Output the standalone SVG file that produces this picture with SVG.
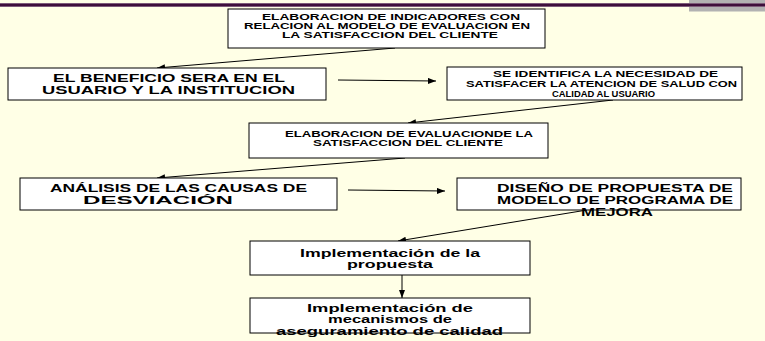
<svg xmlns="http://www.w3.org/2000/svg" width="765" height="341" viewBox="0 0 765 341">
<defs>
<marker id="ah" markerUnits="userSpaceOnUse" markerWidth="9" markerHeight="7" refX="8" refY="3" orient="auto">
<path d="M0,0 L8,3 L0,6 z" fill="#000"/>
</marker>
<style>
.box{fill:#fff;stroke:#000;stroke-width:1}
.t{font-family:"Liberation Sans",Arial,sans-serif;font-weight:bold;fill:#000}
.s8{font-size:8.5px}
.s11{font-size:11px}
.s12{font-size:10.8px}
.s10{font-size:10.5px}
.c{fill:none;stroke:#000;stroke-width:1;marker-end:url(#ah)}
</style>
</defs>
<rect x="0" y="0" width="765" height="341" fill="#FFFFE6"/>
<rect x="689" y="0" width="76" height="11.5" fill="#B2B2B2"/>
<rect x="0" y="3" width="765" height="4" fill="#7E5C7A"/>
<rect x="0" y="4" width="765" height="2" fill="#3F0F3C"/>

<g id="connectors">
<line class="c" x1="395" y1="48" x2="157" y2="68"/>
<line class="c" x1="338" y1="80" x2="436" y2="81"/>
<line class="c" x1="613" y1="100" x2="408" y2="123"/>
<line class="c" x1="405" y1="158" x2="157" y2="178"/>
<line class="c" x1="348" y1="190" x2="445" y2="191"/>
<line class="c" x1="587" y1="210" x2="398" y2="241"/>
<line class="c" x1="402" y1="275" x2="402" y2="298"/>
</g>

<g id="n1">
<rect class="box" x="228" y="9" width="317" height="39"/>
<text class="t s8" x="262" y="19.5" textLength="258" lengthAdjust="spacingAndGlyphs">ELABORACION DE INDICADORES CON</text>
<text class="t s8" x="244" y="28.5" textLength="286" lengthAdjust="spacingAndGlyphs">RELACION AL MODELO DE EVALUACION EN</text>
<text class="t s8" x="282" y="37.5" textLength="216" lengthAdjust="spacingAndGlyphs">LA SATISFACCION DEL CLIENTE</text>
</g>

<g id="n2">
<rect class="box" x="8" y="68" width="318" height="32"/>
<text class="t s11" x="53" y="82.3" textLength="232" lengthAdjust="spacingAndGlyphs">EL BENEFICIO SERA EN EL</text>
<text class="t s11" x="42" y="93.8" textLength="253" lengthAdjust="spacingAndGlyphs">USUARIO Y LA INSTITUCION</text>
</g>

<g id="n3">
<rect class="box" x="447" y="67" width="295" height="33"/>
<text class="t s8" x="493" y="76.5" textLength="225" lengthAdjust="spacingAndGlyphs">SE IDENTIFICA LA NECESIDAD DE</text>
<text class="t s8" x="466" y="86.8" textLength="271" lengthAdjust="spacingAndGlyphs">SATISFACER LA ATENCION DE SALUD CON</text>
<text class="t s8" x="552" y="96.5" textLength="103" lengthAdjust="spacingAndGlyphs">CALIDAD AL USUARIO</text>
</g>

<g id="n4">
<rect class="box" x="249" y="123" width="299" height="35"/>
<text class="t s8" x="285" y="136.5" textLength="248" lengthAdjust="spacingAndGlyphs">ELABORACION DE EVALUACIONDE LA</text>
<text class="t s8" x="313" y="145.5" textLength="190" lengthAdjust="spacingAndGlyphs">SATISFACCION DEL CLIENTE</text>
</g>

<g id="n5">
<rect class="box" x="20" y="178" width="317" height="32"/>
<text class="t s12" x="50" y="191.5" textLength="257" lengthAdjust="spacingAndGlyphs">ANÁLISIS DE LAS CAUSAS DE</text>
<text class="t s12" x="83" y="203.8" textLength="150" lengthAdjust="spacingAndGlyphs">DESVIACIÓN</text>
</g>

<g id="n6">
<rect class="box" x="457" y="178" width="284" height="32"/>
<text class="t s12" x="497" y="191.5" textLength="236" lengthAdjust="spacingAndGlyphs">DISEÑO DE PROPUESTA DE</text>
<text class="t s12" x="497" y="203.8" textLength="236" lengthAdjust="spacingAndGlyphs">MODELO DE PROGRAMA DE</text>
<text class="t s12" x="581" y="216" textLength="72" lengthAdjust="spacingAndGlyphs">MEJORA</text>
</g>

<g id="n7">
<rect class="box" x="250" y="241" width="280" height="34"/>
<text class="t s10" x="300" y="257" textLength="180" lengthAdjust="spacingAndGlyphs">Implementación de la</text>
<text class="t s10" x="347" y="267.5" textLength="86" lengthAdjust="spacingAndGlyphs">propuesta</text>
</g>

<g id="n8">
<rect class="box" x="250" y="298" width="280" height="35"/>
<text class="t s10" x="307" y="312" textLength="166" lengthAdjust="spacingAndGlyphs">Implementación de</text>
<text class="t s10" x="328" y="323" textLength="124" lengthAdjust="spacingAndGlyphs">mecanismos de</text>
<text class="t s10" x="276" y="334.5" textLength="227" lengthAdjust="spacingAndGlyphs">aseguramiento de calidad</text>
</g>
</svg>
